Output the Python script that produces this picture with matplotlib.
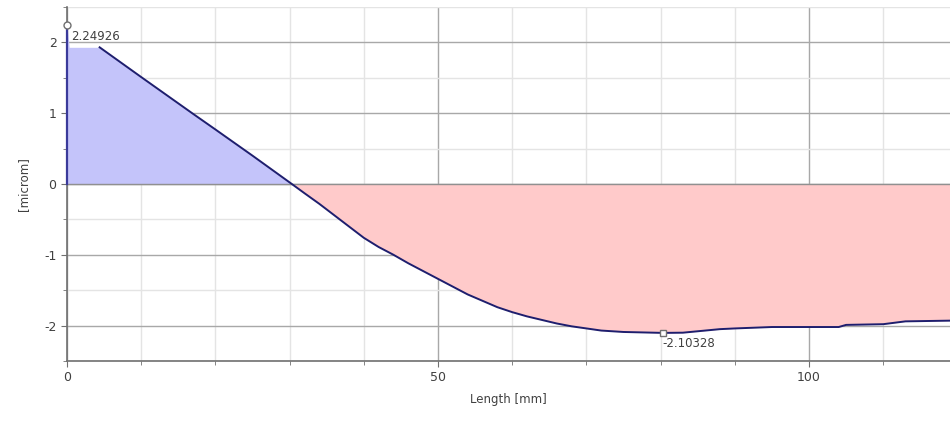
import matplotlib.pyplot as plt
import numpy as np
from matplotlib.ticker import MultipleLocator

plt.rcParams['axes.unicode_minus'] = False

# profile along the length
length = [0, 0.3, 4.4, 10, 17, 20, 25, 30.3, 32, 34, 36, 38, 40, 42, 44, 46, 48,
          50, 52, 54, 56, 58, 60, 62, 64, 66, 68, 70, 72, 75, 80.3, 83, 85, 88,
          90, 95, 100, 104, 105, 110, 113, 119]
deviation = [2.249, 1.93, 1.93, 1.51, 0.99, 0.77, 0.40, 0.0, -0.13, -0.28, -0.44,
             -0.60, -0.76, -0.89, -1.00, -1.12, -1.23, -1.34, -1.45, -1.56, -1.65,
             -1.74, -1.81, -1.87, -1.92, -1.97, -2.01, -2.04, -2.07, -2.09, -2.103,
             -2.10, -2.08, -2.05, -2.04, -2.02, -2.02, -2.02, -1.99, -1.98, -1.94,
             -1.93]
max_pt = (0, 2.24926)
min_pt = (80.3, -2.10328)

x = np.array(length)
y = np.array(deviation)

fig = plt.figure(figsize=(9.5, 4.21), dpi=100)
ax = fig.add_axes([0.0705, 0.1425, 0.9295, 0.841])

ax.fill_between(x, y, 0, where=y >= 0, interpolate=True, color='#c4c4fa', lw=0)
ax.fill_between(x, y, 0, where=y <= 0, interpolate=True, color='#ffcaca', lw=0)
ax.plot(x[2:], y[2:], color='#1e1e6e', lw=1.4)
ax.plot([0, 0], [0, max_pt[1]], color='#3a3a9a', lw=1.6, zorder=4, clip_on=False)

ax.set_xlim(0, 119)
ax.set_ylim(-2.5, 2.5)

ax.xaxis.set_major_locator(MultipleLocator(50))
ax.xaxis.set_minor_locator(MultipleLocator(10))
ax.yaxis.set_major_locator(MultipleLocator(1))
ax.yaxis.set_minor_locator(MultipleLocator(0.5))

ax.grid(which='major', color='#a8a8a8', lw=1.0)
ax.grid(which='minor', color='#e4e4e4', lw=1.0)
ax.set_axisbelow(True)
ax.axhline(0, color='#909090', lw=1.0, zorder=1.5)

for s in ['top', 'right']:
    ax.spines[s].set_visible(False)
for s in ['left', 'bottom']:
    ax.spines[s].set_color('#707070')
    ax.spines[s].set_linewidth(1.2)

ax.tick_params(which='both', colors='#707070', labelcolor='#404040', labelsize=9)
ax.tick_params(which='major', length=4)
ax.tick_params(which='minor', length=3)

ax.set_xlabel('Length [mm]', fontsize=8.5, color='#404040', labelpad=6)
ax.set_ylabel('[microm]', fontsize=8.5, color='#404040', labelpad=10)

ax.plot(*max_pt, marker='o', ms=5, mfc='white', mec='#707070', mew=1, clip_on=False, zorder=5)
ax.annotate('%.5f' % max_pt[1], max_pt, xytext=(3, -4), textcoords='offset points',
            ha='left', va='top', fontsize=8.5, color='#404040')
ax.plot(*min_pt, marker='s', ms=4, mfc='white', mec='#707070', mew=1, zorder=5)
ax.annotate('%.5f' % min_pt[1], min_pt, xytext=(0, -3), textcoords='offset points',
            ha='left', va='top', fontsize=8.5, color='#404040')

fig.savefig('out.png', dpi=100)
